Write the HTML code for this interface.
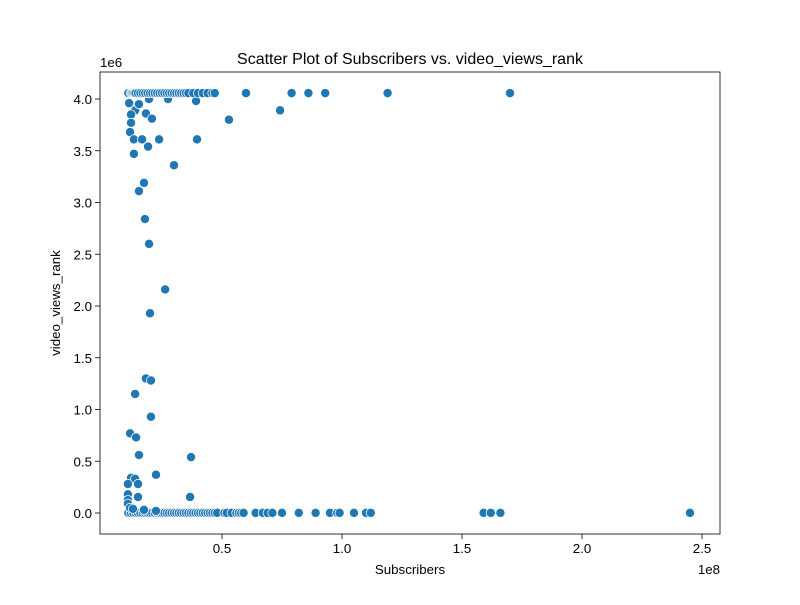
<!DOCTYPE html>
<html><head><meta charset="utf-8"><style>
body{margin:0;background:#fff}
svg text{font-family:"Liberation Sans","DejaVu Sans",sans-serif;fill:#000}
</style></head><body>
<svg id="chart" width="800" height="600" viewBox="0 0 800 600" xmlns="http://www.w3.org/2000/svg">
<rect width="800" height="600" fill="#fff"/>
<text x="410" y="64" font-size="16" text-anchor="middle">Scatter Plot of Subscribers vs. video_views_rank</text>
<g id="points"></g>
<g id="axes"></g>
<rect x="100" y="72" width="620" height="462" fill="none" stroke="#000" stroke-width="0.8"/>
<text x="410" y="574" font-size="13.3" text-anchor="middle">Subscribers</text>
<text x="60" y="303" font-size="13.3" text-anchor="middle" transform="rotate(-90 60 303)">video_views_rank</text>
<text x="100" y="67" font-size="13.3">1e6</text>
<text x="720" y="574" font-size="13.3" text-anchor="end">1e8</text>
</svg>
<script>
// subscribers in millions, rank in millions
const topSubs=[11,12,12.5,13,13.5,14,15,16,17,18,19,20,21,22,23,24,25,26,27,28,29,30,31,32,33,34,35,36,38,40,42,44,46,47,60,79,86,93,119,170];
const topRank=4.057;
const midSubs=[11.3,13.8,12.1,18.3,20.8,12.1,11.7,13.3,16.7,23.8,39.6,19.2,13.3,30.0,17.5,15.4,39.2,74.2,52.9,15.4,19.6,27.5,17.9,19.6,26.3,20,18.3,20.4,13.8,20.4,11.7,14.2,15.4,37.1,22.5,12.1,13.8,15,10.8,15,36.7,10.8,10.8,10.8,11.7,12.9,17.5,22.5];
const midRank=[3.96,3.89,3.85,3.86,3.81,3.77,3.68,3.61,3.61,3.61,3.61,3.54,3.47,3.36,3.19,3.11,3.98,3.89,3.80,3.95,4.0,4.0,2.84,2.60,2.16,1.93,1.30,1.28,1.15,0.93,0.77,0.73,0.56,0.54,0.37,0.34,0.33,0.28,0.28,0.155,0.155,0.18,0.125,0.09,0.05,0.04,0.03,0.02];
const botSubs=[11,12,13,14,15,16,17,18,19,20,21,22,23,24,25,26,27,28,29,30,31,32,33,34,35,36,37,38,39,40,41,42,43,44,45,46,47,48,51,52,54,56,57,58,59,64,67,69,71,75,82,89,95,98,99,105,110,112,159,162,166,245];
const botRank=0.001;
const xTicks=[0.5,1.0,1.5,2.0,2.5];
const yTicks=[0.0,0.5,1.0,1.5,2.0,2.5,3.0,3.5,4.0];
const xs=v=>102+v*2.4;         // v in millions of subscribers
const ys=v=>513-v*103.5;       // v in millions
const NS="http://www.w3.org/2000/svg";
const pg=document.getElementById('points'), ax=document.getElementById('axes');
function dot(s,r){const c=document.createElementNS(NS,'circle');
c.setAttribute('cx',xs(s));c.setAttribute('cy',ys(r));c.setAttribute('r',4.6);
c.setAttribute('fill','#1f77b4');c.setAttribute('stroke','#fff');c.setAttribute('stroke-width',0.75);


pg.appendChild(c);}
botSubs.forEach(s=>dot(s,botRank));
midSubs.forEach((s,i)=>dot(s,midRank[i]));
topSubs.forEach(s=>dot(s,topRank));
xTicks.forEach(t=>{const x=xs(t*100);
const l=document.createElementNS(NS,'line');l.setAttribute('x1',x);l.setAttribute('x2',x);l.setAttribute('y1',534);l.setAttribute('y2',539);l.setAttribute('stroke','#000');l.setAttribute('stroke-width',0.8);


ax.appendChild(l);
const tx=document.createElementNS(NS,'text');tx.setAttribute('x',x);tx.setAttribute('y',553);tx.setAttribute('font-size','13.3');tx.setAttribute('text-anchor','middle');tx.textContent=t.toFixed(1);


ax.appendChild(tx);});
yTicks.forEach(t=>{const y=ys(t);
const l=document.createElementNS(NS,'line');l.setAttribute('x1',95);l.setAttribute('x2',100);l.setAttribute('y1',y);l.setAttribute('y2',y);l.setAttribute('stroke','#000');l.setAttribute('stroke-width',0.8);


ax.appendChild(l);
const tx=document.createElementNS(NS,'text');tx.setAttribute('x',92);tx.setAttribute('y',y+5);tx.setAttribute('font-size','13.3');tx.setAttribute('text-anchor','end');tx.textContent=t.toFixed(1);


ax.appendChild(tx);});
</script>
</body></html>
